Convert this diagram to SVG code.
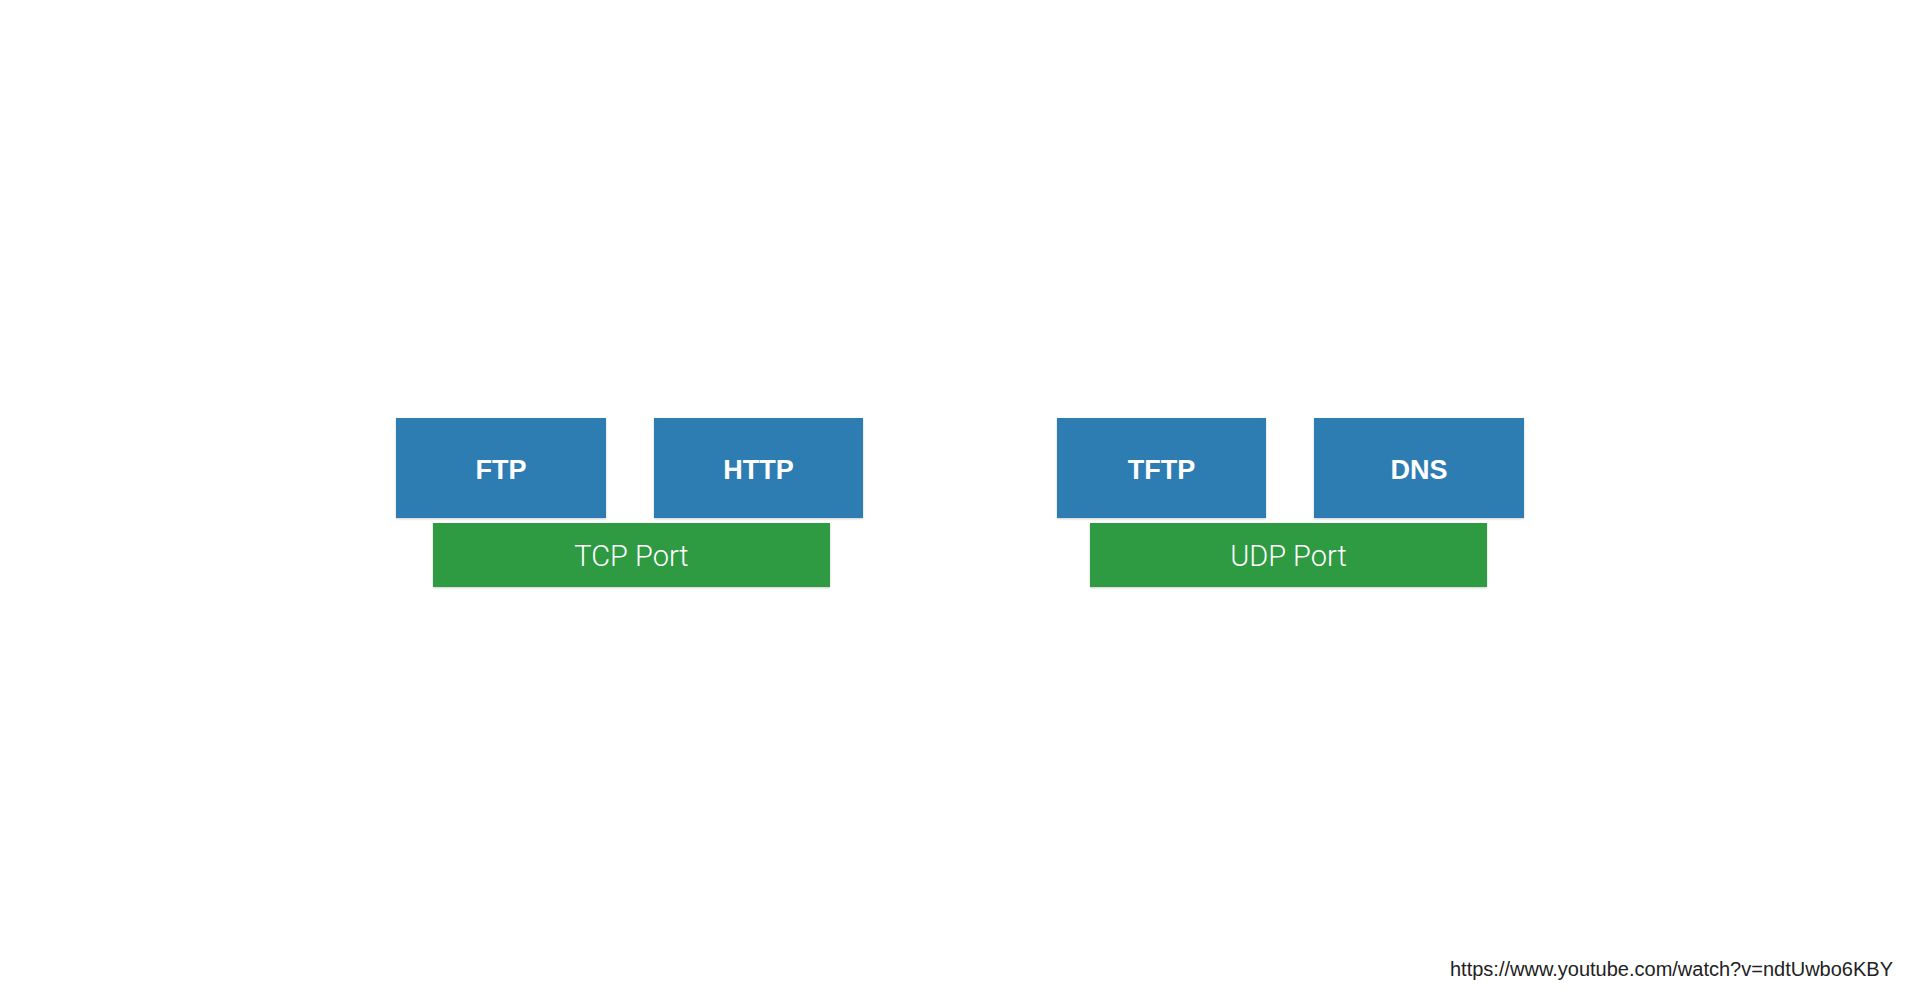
<svg xmlns="http://www.w3.org/2000/svg" width="1920" height="1005" viewBox="0 0 1920 1005">
<style>
.proto{fill:#2e7db2}
.port{fill:#2f9a42}
.pl{font-family:"Liberation Sans",Arial,sans-serif;font-weight:bold;font-size:27px;fill:#ffffff;text-anchor:middle}
.ptl{font-family:Roboto,"Liberation Sans",sans-serif;font-weight:300;font-size:29px;fill:#ffffff;text-anchor:middle}
.url{font-family:"Liberation Sans",Arial,sans-serif;font-size:20px;fill:#222222;text-anchor:end}
</style>
<defs>
<filter id="sh" x="-5%" y="-5%" width="110%" height="120%">
<feDropShadow dx="0" dy="1" stdDeviation="1" flood-color="#000000" flood-opacity="0.2"/>
</filter>
</defs>
<rect width="1920" height="1005" fill="#ffffff"/>
<g id="connectors"></g>
<g id="ftp"><rect class="proto" x="396" y="418" width="210" height="100" filter="url(#sh)"/><text class="pl" x="501" y="479">FTP</text></g>
<g id="http"><rect class="proto" x="654" y="418" width="209" height="100" filter="url(#sh)"/><text class="pl" x="758.5" y="479">HTTP</text></g>
<g id="tcp"><rect class="port" x="433" y="523" width="397" height="64" filter="url(#sh)"/><text class="ptl" x="631.5" y="566">TCP Port</text></g>
<g id="tftp"><rect class="proto" x="1057" y="418" width="209" height="100" filter="url(#sh)"/><text class="pl" x="1161.5" y="479">TFTP</text></g>
<g id="dns"><rect class="proto" x="1314" y="418" width="210" height="100" filter="url(#sh)"/><text class="pl" x="1419" y="479">DNS</text></g>
<g id="udp"><rect class="port" x="1090" y="523" width="397" height="64" filter="url(#sh)"/><text class="ptl" x="1288.5" y="566">UDP Port</text></g>
<text class="url" x="1893" y="976">https://www.youtube.com/watch?v=ndtUwbo6KBY</text>
</svg>
